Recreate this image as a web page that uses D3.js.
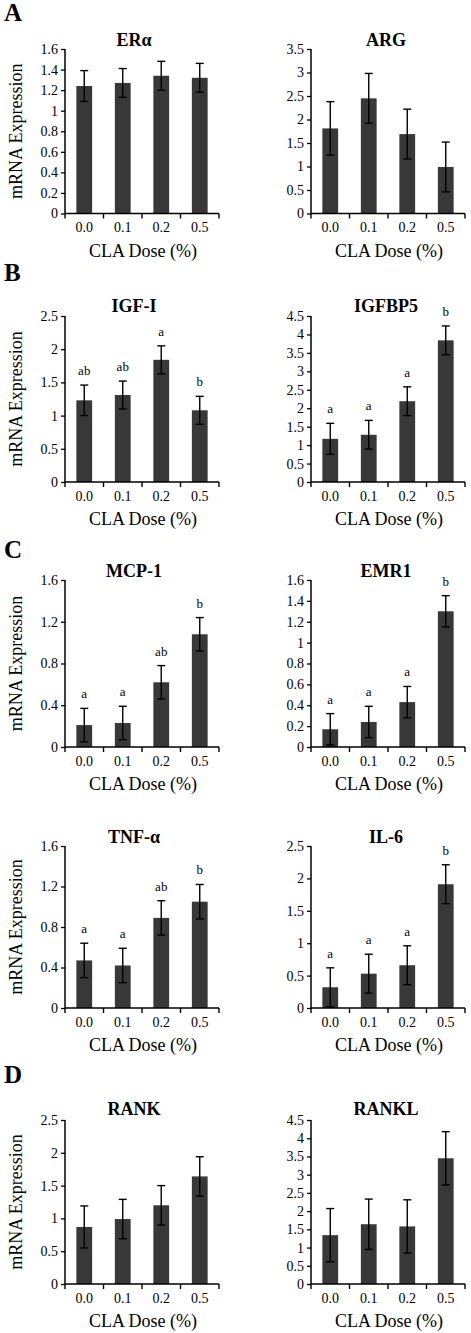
<!DOCTYPE html>
<html><head><meta charset="utf-8">
<script src="https://cdn.jsdelivr.net/npm/d3@7"></script>
<style>
body{margin:0;background:#fff;}
svg{display:block;font-family:"Liberation Serif","Times New Roman",serif;}
svg text{font-family:"Liberation Serif","Times New Roman",serif;}
</style></head>
<body><svg id="c" width="471" height="1333"></svg>
<script>
const categories = ["0.0","0.1","0.2","0.5"];
const geneNames = ["ERα","ARG","IGF-I","IGFBP5","MCP-1","EMR1","TNF-α","IL-6","RANK","RANKL"];
const yMaxes = [1.6,3.5,2.5,4.5,1.6,1.6,1.6,2.5,2.5,4.5];
const ySteps = [0.2,0.5,0.5,0.5,0.4,0.2,0.4,0.5,0.5,0.5];

const eraMean = [1.24,1.27,1.34,1.32];   const eraErr = [0.15,0.14,0.14,0.14];
const argMean = [1.81,2.45,1.69,0.99];   const argErr = [0.57,0.53,0.53,0.53];
const igf1Mean = [1.23,1.31,1.84,1.08];  const igf1Err = [0.23,0.21,0.21,0.21];
const igfbp5Mean = [1.17,1.28,2.19,3.84];const igfbp5Err = [0.42,0.39,0.39,0.39];
const mcp1Mean = [0.21,0.23,0.62,1.08];  const mcp1Err = [0.16,0.16,0.16,0.16];
const emr1Mean = [0.17,0.24,0.43,1.30];  const emr1Err = [0.15,0.15,0.15,0.15];
const tnfMean = [0.47,0.42,0.89,1.05];   const tnfErr = [0.17,0.17,0.17,0.17];
const il6Mean = [0.32,0.53,0.66,1.91];   const il6Err = [0.30,0.30,0.30,0.30];
const rankMean = [0.87,0.99,1.20,1.64];  const rankErr = [0.32,0.30,0.30,0.30];
const ranklMean = [1.34,1.64,1.58,3.45]; const ranklErr = [0.73,0.69,0.73,0.73];

const igf1Sig = ["ab","ab","a","b"];
const igfbp5Sig = ["a","a","a","b"];
const mcp1Sig = ["a","a","ab","b"];
const emr1Sig = ["a","a","a","b"];
const tnfSig = ["a","a","ab","b"];
const il6Sig = ["a","a","a","b"];

const panelLetters = ["A","B","C","D"];
const xTitle = "CLA Dose (%)";
const yTitle = "mRNA Expression";

const means = [eraMean,argMean,igf1Mean,igfbp5Mean,mcp1Mean,emr1Mean,tnfMean,il6Mean,rankMean,ranklMean];
const errs = [eraErr,argErr,igf1Err,igfbp5Err,mcp1Err,emr1Err,tnfErr,il6Err,rankErr,ranklErr];
const sigs = [null,null,igf1Sig,igfbp5Sig,mcp1Sig,emr1Sig,tnfSig,il6Sig,null,null];

// layout
const rows = [
  {top:49, bottom:213.5, title:46},
  {top:316, bottom:482, title:312},
  {top:580, bottom:747, title:577},
  {top:846, bottom:1008, title:843},
  {top:1120, bottom:1284, title:1115}
];
const cols = [{x0:65, x1:219, tx:134},{x0:311, x1:465, tx:386}];
const letterPos = [{y:21},{y:281},{y:558},{y:1083}];
const FONT = "Liberation Serif";

const svg = d3.select("#c");
const barColor = "#383838";

geneNames.forEach((g,i)=>{
  const r = rows[Math.floor(i/2)], c = cols[i%2];
  const gEl = svg.append("g");
  const x = d3.scaleBand().domain(categories).range([c.x0, c.x1]).padding(0);
  const y = d3.scaleLinear().domain([0, yMaxes[i]]).range([r.bottom, r.top]);
  const ticks = d3.range(0, yMaxes[i] + ySteps[i]/2, ySteps[i]).map(v=>+v.toFixed(2));

  const bw = x.bandwidth()*0.41;
  const data = categories.map((cat,k)=>({cat, m:means[i][k], e:errs[i][k], s: sigs[i] ? sigs[i][k] : null}));
  gEl.selectAll("rect.bar").data(data).join("rect").attr("class","bar")
    .attr("x", d=>x(d.cat)+x.bandwidth()/2-bw/2)
    .attr("width", bw)
    .attr("y", d=>y(d.m))
    .attr("height", d=>y(0)-y(d.m))
    .attr("fill", barColor);

  const cap = 4;
  const cx = d=>x(d.cat)+x.bandwidth()/2;
  const eb = gEl.selectAll("g.eb").data(data).join("g").attr("class","eb").attr("stroke","#000").attr("stroke-width",1.4);
  eb.append("line").attr("x1",cx).attr("x2",cx)
    .attr("y1",d=>y(d.m+d.e)).attr("y2",d=>y(d.m-d.e));
  eb.append("line").attr("x1",d=>cx(d)-cap).attr("x2",d=>cx(d)+cap)
    .attr("y1",d=>y(d.m+d.e)).attr("y2",d=>y(d.m+d.e));
  eb.append("line").attr("x1",d=>cx(d)-cap).attr("x2",d=>cx(d)+cap)
    .attr("y1",d=>y(d.m-d.e)).attr("y2",d=>y(d.m-d.e));

  if (sigs[i]) {
    gEl.selectAll("text.sig").data(data).join("text").attr("class","sig")
      .attr("x", cx)
      .attr("y", d=>y(d.m+d.e)-10)
      .attr("text-anchor","middle").attr("font-size",13).attr("font-family",FONT).attr("fill","#000")
      .text(d=>d.s);
  }

  const ya = gEl.append("g").attr("transform",`translate(${c.x0},0)`)
    .call(d3.axisLeft(y).tickValues(ticks).tickSize(4).tickPadding(3).tickFormat(v=>String(+v.toFixed(1))));
  ya.attr("font-family",FONT);
  ya.select(".domain").attr("d",`M0,${r.top}V${r.bottom}`).attr("stroke","#000").attr("stroke-width",1.5);
  ya.selectAll(".tick line").attr("stroke","#000").attr("stroke-width",1.3);
  ya.selectAll(".tick text").attr("font-size",14).attr("font-family",FONT).attr("fill","#000");

  const xa = gEl.append("g").attr("transform",`translate(0,${r.bottom})`)
    .call(d3.axisBottom(x).tickSize(0).tickPadding(9));
  xa.attr("font-family",FONT);
  xa.select(".domain").attr("d",`M${c.x0},0H${c.x1}`).attr("stroke","#000").attr("stroke-width",1.5);
  xa.selectAll(".tick text").attr("font-size",14).attr("font-family",FONT).attr("fill","#000");
  const bounds = categories.map(cat=>x(cat)).concat([x.range()[1]]);
  xa.selectAll("line.bt").data(bounds).join("line").attr("class","bt")
    .attr("x1",d=>d).attr("x2",d=>d).attr("y1",0).attr("y2",5)
    .attr("stroke","#000").attr("stroke-width",1.4);

  gEl.append("text").attr("x",(c.x0+c.x1)/2+1).attr("y",r.bottom+43)
    .attr("text-anchor","middle").attr("font-size",18).attr("font-family",FONT).attr("fill","#000").text(xTitle);

  gEl.append("text").attr("x",c.tx).attr("y",r.title)
    .attr("text-anchor","middle").attr("font-size",18).attr("font-weight","bold").attr("font-family",FONT).attr("fill","#000").text(g);

  if (i%2===0) {
    gEl.append("text").attr("transform",`translate(22,${(r.top+r.bottom)/2}) rotate(-90)`)
      .attr("text-anchor","middle").attr("font-size",18).attr("font-family",FONT).attr("fill","#000").text(yTitle);
  }
});

letterPos.forEach((p,k)=>{
  svg.append("text").attr("x",4).attr("y",p.y).attr("font-size",25).attr("font-weight","bold")
    .attr("font-family",FONT).attr("fill","#000").text(panelLetters[k]);
});
</script></body></html>
